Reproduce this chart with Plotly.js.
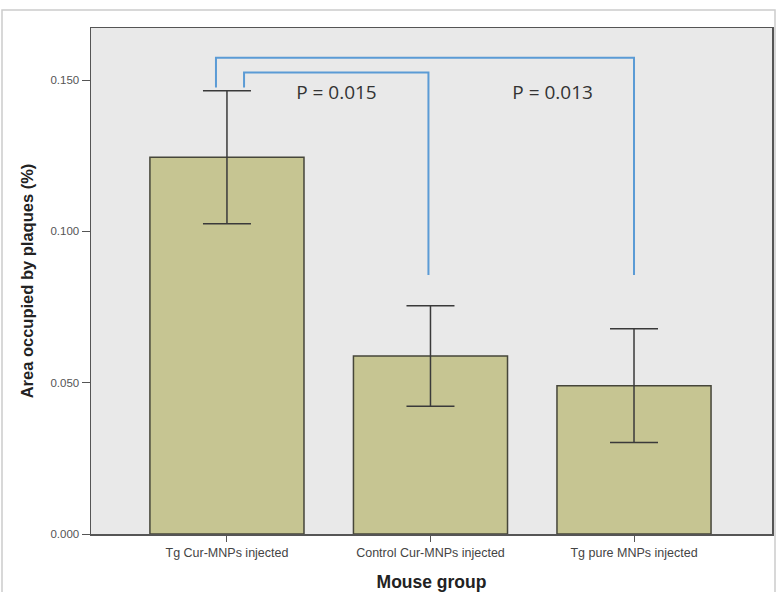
<!DOCTYPE html>
<html>
<head>
<meta charset="utf-8">
<script src="https://cdn.plot.ly/plotly-3.0.1.min.js"></script>
<style>html,body{margin:0;padding:0;background:#fff;}#chart{width:776px;height:592px;}</style>
</head>
<body>
<div id="chart"></div>
<script>
// Data
const categories = ["Tg Cur-MNPs injected", "Control Cur-MNPs injected", "Tg pure MNPs injected"];
const positions = [0, 1, 2];
const means = [0.1245, 0.0588, 0.0490];
const errors = [0.0220, 0.0166, 0.0188];
const yTicks = [0, 0.05, 0.10, 0.15];

// Significance brackets (x in category units, y in data units)
const bracketOuterX = [-0.054, -0.054, 2.0, 2.0];
const bracketOuterY = [0.1475, 0.1574, 0.1574, 0.0856];
const bracketInnerX = [0.084, 0.084, 0.99, 0.99];
const bracketInnerY = [0.1475, 0.1525, 0.1525, 0.0856];
const pLabels = ["P = 0.015", "P = 0.013"];
const pLabelX = [0.538, 1.60];
const pLabelY = [0.1452, 0.1452];

const L = 91, R = 4, T = 28, B = 58, W = 776, H = 592;
const pw = W - L - R, ph = H - T - B;

const traces = [
  {
    type: 'bar', x: positions, y: means, width: 0.757,
    marker: {color: '#c6c592', line: {color: '#46463a', width: 1.5}},
    error_y: {type: 'data', array: errors, visible: true, color: '#3a3a3a', thickness: 1.5, width: 24},
    hoverinfo: 'skip', showlegend: false
  },
  {
    type: 'scatter', mode: 'lines', x: bracketOuterX, y: bracketOuterY,
    line: {color: '#5b9bd5', width: 2}, showlegend: false, hoverinfo: 'skip'
  },
  {
    type: 'scatter', mode: 'lines', x: bracketInnerX, y: bracketInnerY,
    line: {color: '#5b9bd5', width: 2}, showlegend: false, hoverinfo: 'skip'
  },
  {
    type: 'scatter', mode: 'text', x: pLabelX, y: pLabelY, text: pLabels,
    textfont: {family: 'Open Sans, sans-serif', size: 19, color: '#333333'},
    textposition: 'middle center', showlegend: false, hoverinfo: 'skip'
  }
];

const layout = {
  width: W, height: H,
  margin: {l: L, r: R, t: T, b: B, pad: 0},
  paper_bgcolor: '#ffffff',
  plot_bgcolor: '#e9e9e9',
  showlegend: false,
  xaxis: {
    range: [-0.668, 2.678], tickvals: positions, ticktext: categories,
    showgrid: false, zeroline: false,
    showline: true, linecolor: '#555555', linewidth: 1.5, mirror: true,
    ticks: 'outside', ticklen: 6, tickcolor: '#555555', tickwidth: 1,
    tickfont: {family: 'Liberation Sans, Arial, sans-serif', size: 12.5, color: '#444444'},
    title: {text: '<b>Mouse group</b>', font: {family: 'Liberation Sans, Arial, sans-serif', size: 17.5, color: '#222222'}, standoff: 19}
  },
  yaxis: {
    range: [0, 0.1672], tickvals: yTicks, tickformat: '.3f',
    showgrid: false, zeroline: false,
    showline: true, linecolor: '#555555', linewidth: 1.5, mirror: true,
    ticks: 'outside', ticklen: 8, tickcolor: '#555555', tickwidth: 1,
    tickfont: {family: 'Liberation Sans, Arial, sans-serif', size: 11.5, color: '#555555'},
    title: {text: '<b>Area occupied by plaques (%)</b>', font: {family: 'Liberation Sans, Arial, sans-serif', size: 16.5, color: '#222222'}, standoff: 12}
  },
  shapes: [
    {type: 'rect', xref: 'paper', yref: 'paper',
     x0: (2 - L) / pw, x1: (775 - L) / pw,
     y0: -(H - T - ph + 10) / ph, y1: (ph + T - 10) / ph,
     line: {color: '#cccccc', width: 1.5}, fillcolor: 'rgba(0,0,0,0)', layer: 'below'}
  ]
};

Plotly.newPlot('chart', traces, layout, {displayModeBar: false, staticPlot: true});
</script>
</body>
</html>
